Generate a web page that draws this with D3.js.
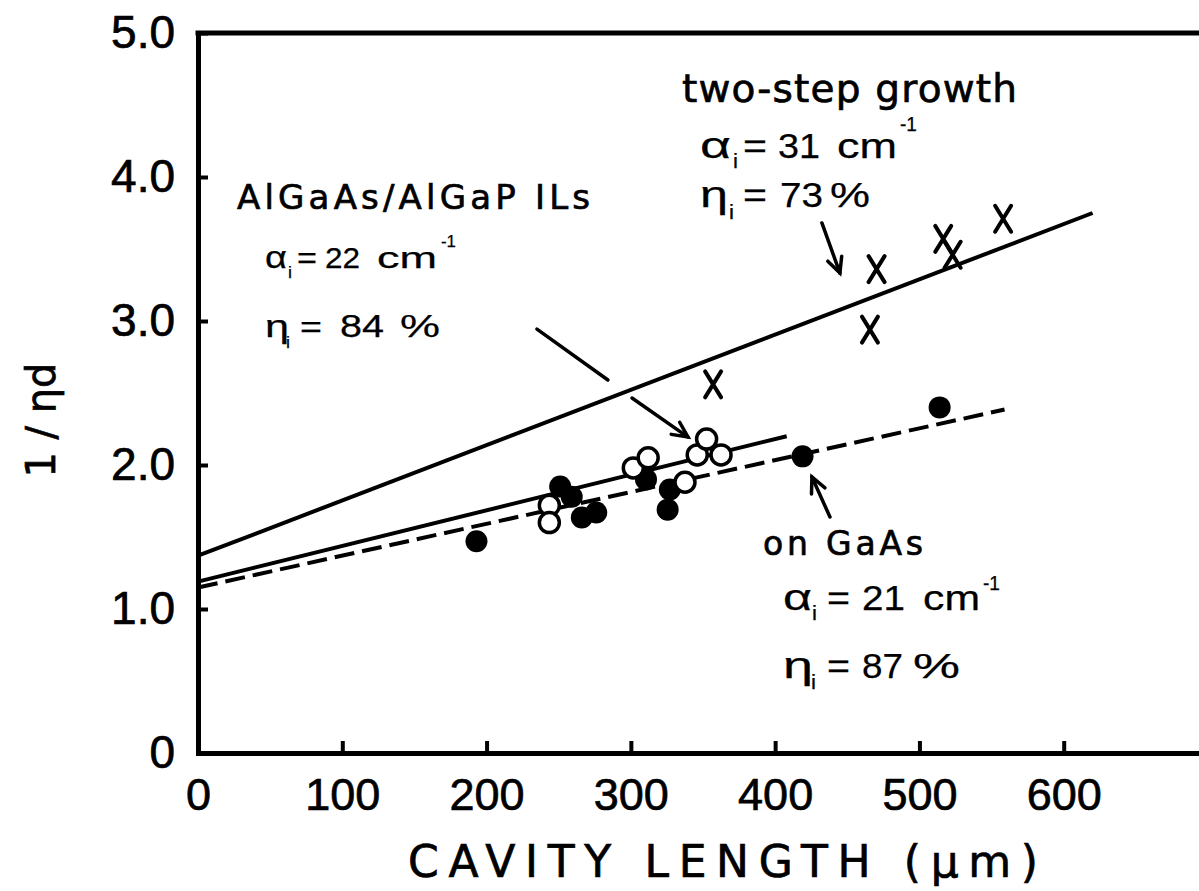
<!DOCTYPE html>
<html>
<head>
<meta charset="utf-8">
<script src="https://cdn.jsdelivr.net/npm/d3@7"></script>
<style>
  html, body { margin: 0; padding: 0; background: #fff; }
  svg { display: block; }
  text { stroke: #000; stroke-width: 0.7px; }
  text.value { stroke-width: 0.25px; }
</style>
</head>
<body>
<script>
// Axis ticks
const lengthTicks = [0, 100, 200, 300, 400, 500, 600];
const invTicks = [0, 1, 2, 3, 4, 5];
const invTickLabels = ["0", "1.0", "2.0", "3.0", "4.0", "5.0"];

// Lasers grown on GaAs (filled circles)
const gaasLength = [193, 251, 259, 266, 276, 310.5, 325.5, 327, 419, 514];
const gaasInv    = [1.47, 1.85, 1.78, 1.635, 1.67, 1.90, 1.69, 1.83, 2.06, 2.40];

// AlGaAs/AlGaP interlayers (open circles)
const ilLength = [243.5, 243.5, 301.7, 312, 337.5, 346, 352.5, 362.5];
const ilInv    = [1.72, 1.60, 1.98, 2.05, 1.88, 2.07, 2.18, 2.07];

// Two-step growth (crosses)
const twoStepLength = [357, 465.7, 470.3, 516.5, 523, 558];
const twoStepInv    = [2.56, 2.94, 3.36, 3.57, 3.46, 3.71];

// Linear fits: intercept 1/eta_i, drawn up to the given end point
const fitNames     = ["two-step", "IL", "GaAs"];
const fitAlpha     = [31, 22, 21];      // cm^-1
const fitEta       = [73, 84, 87];      // %
const fitEndLength = [620, 408, 559];
const fitEndInv    = [3.75, 2.20, 2.385];

const W = 1199, H = 891;
const svg = d3.select("body").append("svg").attr("width", W).attr("height", H);
svg.append("rect").attr("width", W).attr("height", H).attr("fill", "#fff");

const x = d3.scaleLinear().domain([0, 700]).range([198, 1208]);
const y = d3.scaleLinear().domain([0, 5]).range([753, 33]);

const numFont = "'Liberation Sans', Arial, sans-serif";
const wordFont = "'DejaVu Sans', Verdana, sans-serif";

// Frame: top edge
svg.append("line")
  .attr("x1", x(0)).attr("x2", x(700))
  .attr("y1", y(5)).attr("y2", y(5))
  .attr("stroke", "#000").attr("stroke-width", 5).attr("stroke-linecap", "square");

// Left axis
const gy = svg.append("g")
  .attr("transform", `translate(${x(0)},0)`)
  .call(d3.axisLeft(y).tickValues(invTicks)
    .tickFormat((d, i) => invTickLabels[i])
    .tickSize(-10).tickSizeOuter(0).tickPadding(23));

// Bottom axis
const gx = svg.append("g")
  .attr("transform", `translate(0,${y(0)})`)
  .call(d3.axisBottom(x).tickValues(lengthTicks)
    .tickFormat(d3.format("d"))
    .tickSize(-12).tickSizeOuter(0).tickPadding(25));

[gx, gy].forEach(g => {
  g.select(".domain").attr("stroke", "#000").attr("stroke-width", 5).attr("stroke-linecap", "square");
  g.selectAll(".tick line").attr("stroke", "#000").attr("stroke-width", 4);
  g.selectAll(".tick text").attr("fill", "#000").attr("font-family", numFont);
});
gy.selectAll(".tick text").attr("font-size", 46);
gx.selectAll(".tick text").attr("font-size", 45);

// Axis titles
svg.append("text")
  .attr("x", 408).attr("y", 877)
  .attr("font-family", wordFont).attr("font-size", 44)
  .attr("textLength", 630).attr("lengthAdjust", "spacing")
  .text("CAVITY LENGTH (μm)");

svg.append("text")
  .attr("transform", "translate(55,420) rotate(-90)")
  .attr("text-anchor", "middle")
  .attr("font-family", wordFont).attr("font-size", 40)
  .attr("textLength", 115).attr("lengthAdjust", "spacing")
  .text("1 / ηd");

// Fit lines
const line = d3.line().x(d => x(d[0])).y(d => y(d[1]));
const fitStyle = { "two-step": null, "IL": null, "GaAs": "20,8" };
fitNames.forEach((name, i) => {
  const pts = [[0, 100 / fitEta[i]], [fitEndLength[i], fitEndInv[i]]];
  const p = svg.append("path")
    .attr("d", line(pts))
    .attr("fill", "none").attr("stroke", "#000").attr("stroke-width", 4);
  if (fitStyle[name]) p.attr("stroke-dasharray", fitStyle[name]);
});

// Filled circles
svg.append("g").selectAll("circle")
  .data(d3.zip(gaasLength, gaasInv))
  .join("circle")
  .attr("cx", d => x(d[0])).attr("cy", d => y(d[1]))
  .attr("r", 11).attr("fill", "#000");

// Open circles
svg.append("g").selectAll("circle")
  .data(d3.zip(ilLength, ilInv))
  .join("circle")
  .attr("cx", d => x(d[0])).attr("cy", d => y(d[1]))
  .attr("r", 10).attr("fill", "#fff").attr("stroke", "#000").attr("stroke-width", 3.5);

// Crosses
svg.append("g").selectAll("path")
  .data(d3.zip(twoStepLength, twoStepInv))
  .join("path")
  .attr("transform", d => `translate(${x(d[0])},${y(d[1])})`)
  .attr("d", "M-8,-13L8,13M8,-13L-8,13")
  .attr("fill", "none").attr("stroke", "#000").attr("stroke-width", 4).attr("stroke-linecap", "round");

// Arrows (in data coordinates)
function arrow(a, b, head) {
  const x1 = x(a[0]), y1 = y(a[1]), x2 = x(b[0]), y2 = y(b[1]);
  svg.append("line").attr("x1", x1).attr("y1", y1).attr("x2", x2).attr("y2", y2)
    .attr("stroke", "#000").attr("stroke-width", 3.5).attr("stroke-linecap", "round");
  if (!head) return;
  const ang = Math.atan2(y2 - y1, x2 - x1);
  const L = 17, spread = 0.45;
  const p1 = [x2 - L * Math.cos(ang - spread), y2 - L * Math.sin(ang - spread)];
  const p2 = [x2 - L * Math.cos(ang + spread), y2 - L * Math.sin(ang + spread)];
  svg.append("path")
    .attr("d", `M${p1[0]},${p1[1]}L${x2},${y2}L${p2[0]},${p2[1]}`)
    .attr("fill", "none").attr("stroke", "#000").attr("stroke-width", 3.5)
    .attr("stroke-linecap", "round").attr("stroke-linejoin", "miter");
}
arrow([432.4, 3.681], [444.9, 3.333], true);
arrow([234.9, 2.944], [284.1, 2.590], false);
arrow([300.8, 2.465], [339.6, 2.194], true);
arrow([438.0, 1.639], [425.5, 1.917], true);

// Text helpers
function piece(px, py, str, size, w, family, adjust) {
  const t = svg.append("text")
    .attr("x", px).attr("y", py)
    .attr("font-family", family || numFont)
    .attr("font-size", size)
    .attr("fill", "#000")
    .text(str);
  if (!family) t.attr("class", "value");
  if (w) t.attr("textLength", w).attr("lengthAdjust", adjust || "spacingAndGlyphs");
  return t;
}

// two-step growth
piece(682, 102, "two-step growth", 39, 335, wordFont, "spacing");
piece(700, 158, "α", 36, 31);
piece(733, 168, "i", 20, 5);
piece(743, 158, "=", 35, 24);
piece(778, 158, "31", 35, 42);
piece(837, 158, "cm", 35, 60);
piece(900, 131, "-1", 20, 17);
piece(700, 207, "η", 36, 28);
piece(729, 219, "i", 20, 5);
piece(743, 207, "=", 35, 24);
piece(780, 207, "73", 35, 43);
piece(830, 207, "%", 35, 40);

// AlGaAs/AlGaP ILs
piece(237, 209, "AlGaAs/AlGaP ILs", 34, 353, wordFont, "spacing");
piece(265, 268, "α", 31, 22);
piece(288, 278, "i", 17, 4);
piece(297, 268, "=", 30, 20);
piece(325, 268, "22", 30, 35);
piece(377, 268, "cm", 30, 60);
piece(441, 247, "-1", 17, 15);
piece(265, 337, "η", 31, 24);
piece(286, 348, "i", 17, 4);
piece(300, 337, "=", 30, 22);
piece(340, 337, "84", 32, 44);
piece(400, 337, "%", 32, 40);

// on GaAs
piece(763, 555, "on GaAs", 33, 160, wordFont, "spacing");
piece(783, 610, "α", 36, 29);
piece(812, 620, "i", 20, 5);
piece(827, 610, "=", 35, 23);
piece(862, 610, "21", 35, 43);
piece(923, 610, "cm", 35, 57);
piece(983, 590, "-1", 20, 17);
piece(783, 678, "η", 36, 30);
piece(811, 689, "i", 20, 5);
piece(827, 678, "=", 35, 23);
piece(862, 678, "87", 35, 41);
piece(913, 678, "%", 35, 47);
</script>
</body>
</html>
